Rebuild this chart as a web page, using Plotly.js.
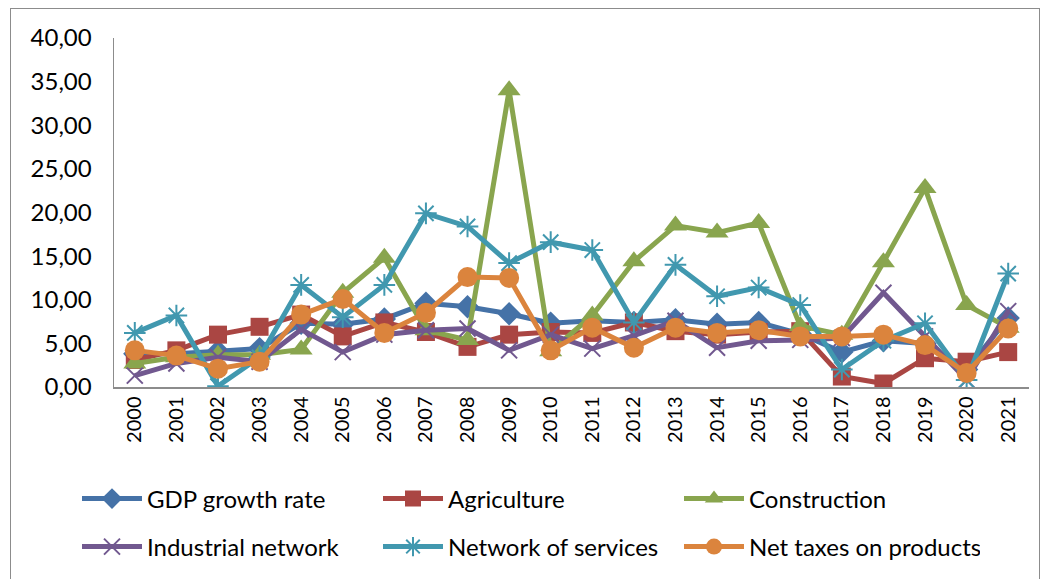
<!DOCTYPE html>
<html>
<head>
<meta charset="utf-8">
<script src="https://cdn.plot.ly/plotly-3.0.1.min.js"></script>
<style>
html,body{margin:0;padding:0;background:#fff;}
#frame{position:absolute;left:10px;top:8px;width:1030px;height:600px;border:1px solid #8c8c8c;box-sizing:border-box;}
#chart{position:absolute;left:0;top:0;width:1049px;height:579px;}
</style>
</head>
<body>
<div id="frame"></div>
<div id="chart"></div>
<script>
const years = ["2000","2001","2002","2003","2004","2005","2006","2007","2008","2009","2010","2011","2012","2013","2014","2015","2016","2017","2018","2019","2020","2021"];
const gdpGrowth = [3.8,3.8,4.1,4.4,7.3,7.2,7.8,9.6,9.2,8.4,7.3,7.6,7.4,7.7,7.2,7.4,6.1,4.0,5.3,5.0,2.0,7.9];
const agriculture = [3.1,4.2,6.0,6.9,8.3,5.8,7.4,6.3,4.6,6.0,6.3,6.2,7.4,6.4,6.0,6.3,6.4,1.2,0.4,3.3,2.9,4.0];
const construction = [2.7,3.4,3.7,3.7,4.3,10.8,14.8,6.5,5.4,34.0,4.1,8.2,14.4,18.5,17.7,18.8,7.0,6.0,14.3,22.8,9.4,6.8];
const industrialNetwork = [1.3,2.7,3.4,2.9,6.6,4.0,6.0,6.5,6.7,4.2,6.0,4.4,5.9,7.6,4.5,5.3,5.4,5.6,10.8,5.8,0.8,8.7];
const networkOfServices = [6.2,8.2,0.1,3.4,11.7,8.0,11.7,19.9,18.4,14.2,16.6,15.7,7.4,14.0,10.4,11.4,9.4,2.0,5.3,7.3,0.8,13.0];
const netTaxes = [4.2,3.6,2.1,2.9,8.3,10.1,6.2,8.5,12.6,12.5,4.2,6.8,4.5,6.8,6.2,6.5,5.8,5.8,6.0,4.8,1.6,6.7];
const yTicks = [0,5,10,15,20,25,30,35,40];
const yTickLabels = ["0,00","5,00","10,00","15,00","20,00","25,00","30,00","35,00","40,00"];

const fam = "Lato, 'Open Sans', sans-serif";
const font = {family: fam, size: 24, color: "#000"};
function tr(name, y, color, symbol, size, open, legend) {
  return {
    type: "scatter", mode: "lines+markers", name: name, x: years, y: y,
    legend: legend,
    line: {color: color, width: 5},
    marker: open ? {symbol: symbol, size: size, color: color, line: {color: color, width: 2}}
                 : {symbol: symbol, size: size, color: color, line: {width: 0}}
  };
}
const data = [
  tr("GDP growth rate", gdpGrowth, "#4572A7", "diamond", 18, false, "legend"),
  tr("Agriculture", agriculture, "#AA4643", "square", 18, false, "legend"),
  tr("Construction", construction, "#89A54E", "triangle-up", 20, false, "legend"),
  tr("Industrial network", industrialNetwork, "#71588F", "x-thin-open", 16, true, "legend2"),
  tr("Network of services", networkOfServices, "#4198AF", "asterisk-open", 18, true, "legend2"),
  tr("Net taxes on products", netTaxes, "#DB843D", "circle", 20, false, "legend2")
];
const legendBase = {
  orientation: "h", xref: "container", yref: "container", xanchor: "left", yanchor: "middle",
  x: 77/1049, font: font, entrywidth: 226, entrywidthmode: "pixels", itemwidth: 60,
  bgcolor: "rgba(0,0,0,0)", traceorder: "normal"
};
const layout = {
  width: 1049, height: 579,
  margin: {l: 114, r: 20, t: 38, b: 192},
  paper_bgcolor: "rgba(0,0,0,0)", plot_bgcolor: "rgba(0,0,0,0)",
  font: font,
  xaxis: {
    type: "category", range: [-0.5, 21.5], showgrid: false, zeroline: false,
    showline: true, linecolor: "#8c8c8c", linewidth: 1.5, ticks: "",
    tickangle: -90, tickfont: {family: fam, size: 20, color: "#000"}, automargin: false
  },
  yaxis: {
    range: [0, 40], tickvals: yTicks, ticktext: yTickLabels, showgrid: false, zeroline: false,
    showline: true, linecolor: "#8c8c8c", linewidth: 1.5, ticks: "", ticklabelstandoff: 16,
    tickfont: {family: fam, size: 24, color: "#000"}, automargin: false
  },
  showlegend: true,
  legend: Object.assign({}, legendBase, {y: 1 - 499/579}),
  legend2: Object.assign({}, legendBase, {y: 1 - 547/579})
};
Plotly.newPlot("chart", data, layout, {displayModeBar: false, staticPlot: true});
</script>
</body>
</html>
